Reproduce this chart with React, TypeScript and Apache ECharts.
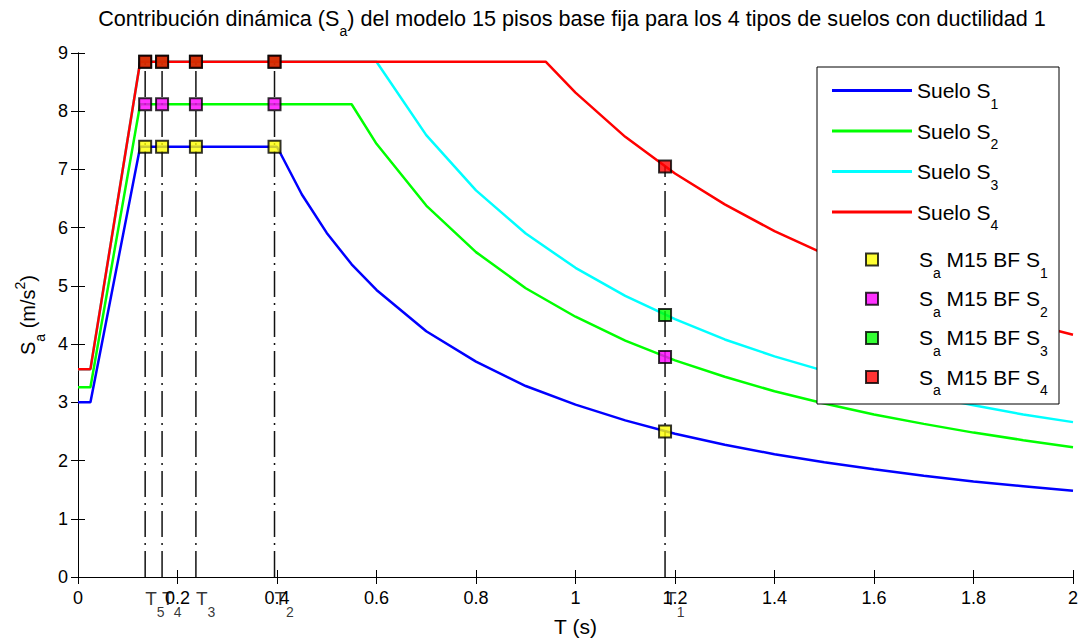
import React, { useEffect, useRef } from "react";
import * as echarts from "echarts";

const FONT = "Liberation Sans";

// Spectra (T in s, Sa in m/s^2)
const tS1 = [0, 0.025, 0.125, 0.4, 0.45, 0.5, 0.55, 0.6, 0.7, 0.8, 0.9, 1.0, 1.1, 1.2, 1.3, 1.4, 1.5, 1.6, 1.7, 1.8, 1.9, 2.0];
const saS1 = [3.0, 3.0, 7.39, 7.39, 6.57, 5.91, 5.37, 4.93, 4.22, 3.7, 3.28, 2.96, 2.69, 2.46, 2.27, 2.11, 1.97, 1.85, 1.74, 1.64, 1.56, 1.48];

const tS2 = [0, 0.025, 0.125, 0.55, 0.6, 0.7, 0.8, 0.9, 1.0, 1.1, 1.2, 1.3, 1.4, 1.5, 1.6, 1.7, 1.8, 1.9, 2.0];
const saS2 = [3.26, 3.26, 8.12, 8.12, 7.44, 6.38, 5.58, 4.96, 4.47, 4.06, 3.72, 3.44, 3.19, 2.98, 2.79, 2.63, 2.48, 2.35, 2.23];

const tS3 = [0, 0.025, 0.125, 0.6, 0.7, 0.8, 0.9, 1.0, 1.1, 1.2, 1.3, 1.4, 1.5, 1.6, 1.7, 1.8, 1.9, 2.0];
const saS3 = [3.57, 3.57, 8.85, 8.85, 7.59, 6.64, 5.9, 5.31, 4.83, 4.43, 4.08, 3.79, 3.54, 3.32, 3.12, 2.95, 2.79, 2.66];

const tS4 = [0, 0.025, 0.125, 0.94, 1.0, 1.1, 1.2, 1.3, 1.4, 1.5, 1.6, 1.7, 1.8, 1.9, 2.0];
const saS4 = [3.57, 3.57, 8.85, 8.85, 8.32, 7.56, 6.93, 6.4, 5.94, 5.55, 5.2, 4.89, 4.62, 4.38, 4.16];

const soilNames = ["Suelo S1", "Suelo S2", "Suelo S3", "Suelo S4"];
const soilColors = ["#0000ff", "#00ff00", "#00ffff", "#ff0000"];

// Modal periods of the 15-storey model and its Sa per soil
const periods = [1.18, 0.395, 0.237, 0.169, 0.135];
const periodLabels = ["1", "2", "3", "4", "5"];
const saM15S1 = [2.5, 7.39, 7.39, 7.39, 7.39];
const saM15S2 = [3.78, 8.12, 8.12, 8.12, 8.12];
const saM15S3 = [4.5, 8.85, 8.85, 8.85, 8.85];
const saM15S4 = [7.05, 8.85, 8.85, 8.85, 8.85];

const markerNames = ["Sa M15 BF S1", "Sa M15 BF S2", "Sa M15 BF S3", "Sa M15 BF S4"];
const markerColors = ["#ffff00", "#ff00ff", "#00ff00", "#ff0000"];

const makeRich = (main: number, sub: number, shift: number) => ({
  m: { fontSize: main, color: "#000", verticalAlign: "middle" },
  s: { fontSize: sub, color: "#000", verticalAlign: "middle", padding: [shift * 2, 0, 0, 0] },
  sup: { fontSize: sub, color: "#000", verticalAlign: "middle", padding: [0, 0, 16, 0] },
});

const richBig = makeRich(21, 14, 13);
const richTitle = makeRich(21.6, 14, 13);
const richT = makeRich(19, 14, 14);

export default function App() {
  const ref = useRef<HTMLDivElement>(null);

  useEffect(() => {
    if (!ref.current) return;
    const chart = echarts.init(ref.current, undefined, { renderer: "svg" });

    const lineT = [tS1, tS2, tS3, tS4];
    const lineSa = [saS1, saS2, saS3, saS4];
    const markerSa = [saM15S1, saM15S2, saM15S3, saM15S4];

    const lineSeries = soilNames.map((name, k) => ({
      name,
      type: "line",
      data: lineT[k].map((t, i) => [t, lineSa[k][i]]),
      showSymbol: false,
      symbol: "none",
      color: soilColors[k],
      lineStyle: { color: soilColors[k], width: 2.5 },
      itemStyle: { color: soilColors[k] },
      z: 2,
    }));

    const vLines = periods.map((t, i) => ({
      type: "line",
      data: [
        [t, 0],
        [t, Math.max(saM15S1[i], saM15S2[i], saM15S3[i], saM15S4[i])],
      ],
      symbol: "none",
      silent: true,
      lineStyle: { color: "#111", width: 1.5, type: [26, 6, 2, 6] },
      z: 3,
    }));

    const markerSeries = markerNames.map((name, k) => ({
      name,
      type: "scatter",
      data: periods.map((t, i) => [t, markerSa[k][i]]),
      symbol: "rect",
      symbolSize: 12,
      color: markerColors[k],
      itemStyle: { color: markerColors[k], borderColor: "#000", borderWidth: 2 },
      z: 5,
    }));

    const periodLabelSeries = {
      type: "scatter",
      silent: true,
      clip: false,
      symbolSize: 1,
      itemStyle: { color: "rgba(0,0,0,0)" },
      data: periods.map((t, i) => ({
        value: [t, 0],
        label: {
          show: true,
          formatter: `{m|T}{s|${periodLabels[i]}}`,
          position: [0.5, 21.5],
          align: "left",
          verticalAlign: "middle",
          fontFamily: FONT,
          rich: richT,
        },
      })),
      z: 6,
    };

    const axisCommonX = {
      type: "value",
      min: 0,
      max: 2,
      interval: 0.2,
      splitLine: { show: false },
      axisLine: { show: true, lineStyle: { color: "#000", width: 1 } },
      axisTick: { show: true, inside: true, length: 7, lineStyle: { color: "#000" } },
    };
    const axisCommonY = {
      type: "value",
      min: 0,
      max: 9,
      interval: 1,
      splitLine: { show: false },
      axisLine: { show: true, lineStyle: { color: "#000", width: 1 } },
      axisTick: { show: true, inside: true, length: 7, lineStyle: { color: "#000" } },
    };

    chart.setOption({
      animation: false,
      backgroundColor: "#fff",
      textStyle: { fontFamily: FONT },
      title: {
        text:
          "{m|Contribución dinámica (S}{s|a}{m|) del modelo 15 pisos base fija para los 4 tipos de suelos con ductilidad 1}",
        left: 572,
        top: 18,
        padding: 0,
        textAlign: "center",
        textVerticalAlign: "middle",
        textStyle: { fontSize: 21.6, fontWeight: "normal", color: "#000", fontFamily: FONT, rich: richTitle },
      },
      grid: { left: 78, right: 10, top: 53, bottom: 67, containLabel: false, outerBoundsMode: "none" },
      xAxis: [
        {
          ...axisCommonX,
          position: "bottom",
          name: "T (s)",
          nameLocation: "middle",
          nameGap: 39,
          nameTextStyle: { fontSize: 21, color: "#000", fontFamily: FONT },
          axisLabel: { show: true, fontSize: 18, color: "#000", margin: 12, fontFamily: FONT },
        },
        {
          ...axisCommonX,
          position: "top",
          axisLabel: { show: false },
        },
      ],
      yAxis: [
        {
          ...axisCommonY,
          position: "left",
          name: "{m|S}{s|a}{m| (m/s}{sup|2}{m|)}",
          nameLocation: "middle",
          nameRotate: 90,
          nameGap: 22,
          nameTextStyle: { fontSize: 20, color: "#000", fontFamily: FONT, rich: makeRich(20, 14, 12) },
          axisLabel: { show: true, fontSize: 18, color: "#000", margin: 10, fontFamily: FONT },
        },
        {
          ...axisCommonY,
          position: "right",
          axisLabel: { show: false },
        },
      ],
      graphic: [
        {
          type: "rect",
          shape: { x: 817, y: 67, width: 242, height: 337 },
          style: { fill: "#fff", stroke: "#000", lineWidth: 1 },
          z: 10,
        },
      ],
      legend: [
        {
          data: soilNames,
          orient: "vertical",
          left: 832,
          top: 80,
          padding: 0,
          itemGap: 10,
          itemWidth: 80,
          itemHeight: 3,
          icon: "rect",
          selectedMode: false,
          z: 11,
          itemStyle: { borderWidth: 0 },
          formatter: (name: string) => `{m|Suelo S}{s|${name.slice(-1)}}`,
          textStyle: { fontSize: 21, color: "#000", fontFamily: FONT, rich: richBig },
        },
        {
          data: markerNames,
          orient: "vertical",
          left: 865,
          top: 249,
          padding: 0,
          itemGap: 8.7,
          itemWidth: 84,
          itemHeight: 12,
          icon: "path://M0,0h10v10h-10z",
          selectedMode: false,
          z: 11,
          itemStyle: { borderColor: "#000", borderWidth: 2 },
          formatter: (name: string) => `{m|S}{s|a}{m| M15 BF S}{s|${name.slice(-1)}}`,
          textStyle: { fontSize: 21, color: "#000", fontFamily: FONT, rich: richBig },
        },
      ],
      series: [...lineSeries, ...vLines, ...markerSeries, periodLabelSeries],
    });

    return () => chart.dispose();
  }, []);

  return (
    <div
      ref={ref}
      style={{ position: "fixed", left: 0, top: 0, width: 1083, height: 644, background: "#fff" }}
    />
  );
}
